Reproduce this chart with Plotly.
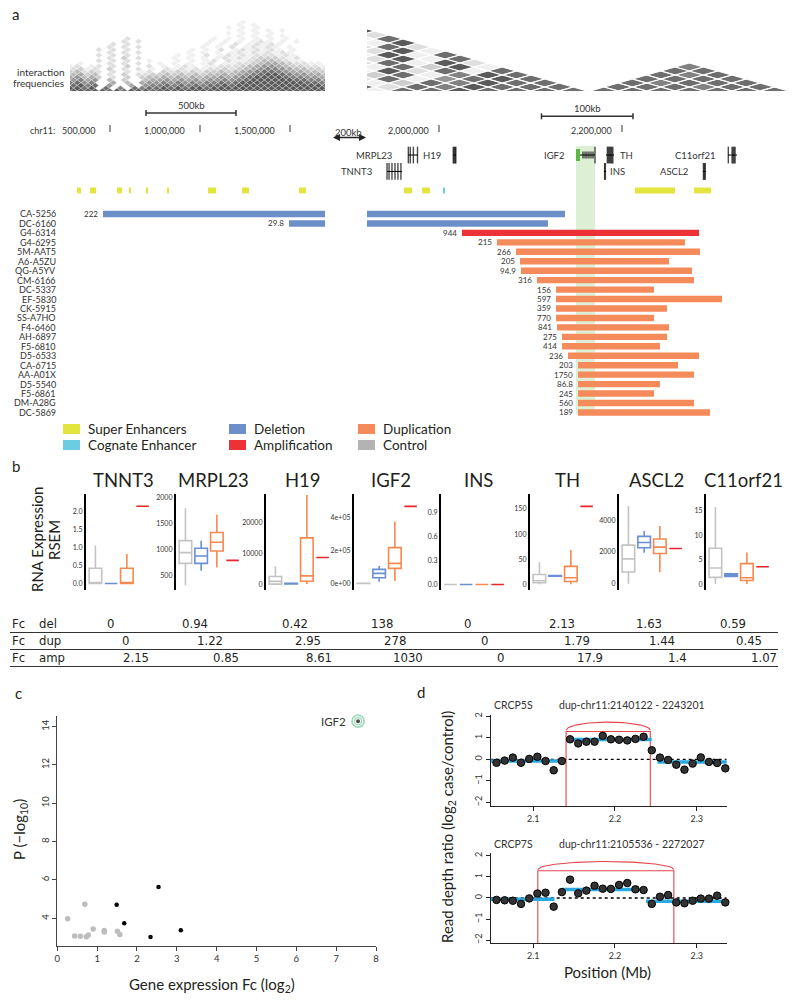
import numpy as np
import plotly.graph_objects as go

W, H = 800, 1004
FONT = "Lato, 'Open Sans', sans-serif"
NARROW = "'Liberation Sans Narrow', 'DejaVu Sans Condensed', Lato, sans-serif"
INK = "#231f20"
YELLOW, CYAN = "#e4e43f", "#6ccde2"
BLUE, RED, ORANGE, GREY = "#6c8fca", "#ec3237", "#f58a5a", "#b3b3b3"

# ============================ DATA ============================
# ---- panel a : Hi-C interaction frequency (0 = none ... 9 = strongest), one string per diagonal offset
hic_left_start_kb = 278.0
hic_left_bin_kb = 40.0
hic_left_levels = [
    "9999 989899 9899 99999999 9999999999 99999",
    "9989 080708 7889 89899899 9999999999 99998",
    "8978 060050 6778 78787889 8999999999 99988",
    "7867 005040 5667 67676778 7899999999 98877",
    "6756 040300 4556 56565667 6789999998 87766",
    "5645 302030 3445 45454556 5678999987 76655",
    "4534 020302 2334 34343445 4567899876 65544",
    "3423 202020 1203 23232334 3456788765 54433",
    "2312 030202 0102 12121223 2345677654 43322",
    "1201 202030 0201 01210112 2234566543 32211",
    "0100 020202 0010 10101201 1223455432 21100",
    "0000 202020 0100 01010120 2112344321 10000",
    "0000 020302 0000 10101012 1212333212 00000",
    "0000 202020 0000 01010201 2121222121 00000",
    "0000 020202 0000 00101010 1212121210 00000",
    "0000 202020 0000 00010102 0121212101 00000",
    "0000 020202 0000 00001010 2012121010 00000",
    "0000 002020 0000 00000101 0201212100 00000",
    "0000 000202 0000 00000101 0101210101 00000",
    "0000 000020 0000 00000010 1010101010 00000",
    "0000 000000 0000 00000000 0101010100 00000",
    "0000 000000 0000 00000000 1010101000 00000",
    "0000 000000 0000 00000000 0101010100 00000",
    "0000 000000 0000 00000000 1010100000 00000",
    "0000 000000 0000 00000000 0101000000 00000",
    "0000 000000 0000 00000000 0010000000 00000",
]
hic_right_bin_kb = 31.0
hic_right_a_start_kb = 1666.0
hic_right_a_levels = [
    "8888888818898888", "888888882879888", "88888881387988", "8888882816898",
    "888888381798", "88888192818", "8888918391", "888828192", "88882918",
    "8881918", "888291", "88282", "8819", "818", "92", "9",
]
hic_right_b_start_kb = 2165.0
hic_right_b_levels = ["8888888", "888788", "87888", "8888", "878", "88", "7"]

super_enh_start_kb = [316.7, 388.9, 538.9, 605.6, 700.0, 816.7, 1044.4, 1233.3, 1550.0,
                      1961.7, 1981.4, 2214.2, 2278.7]
super_enh_end_kb = [338.9, 422.2, 566.7, 616.7, 711.1, 827.8, 1088.9, 1272.2, 1588.9,
                    1970.5, 1990.2, 2257.9, 2297.3]
cognate_enh_start_kb = [2004.4]
cognate_enh_end_kb = [2006.6]

gene_names = ["MRPL23", "H19", "IGF2", "TH", "C11orf21", "TNNT3", "INS", "ASCL2"]
gene_lane = [0, 0, 0, 0, 0, 1, 1, 1]
gene_start_kb = [1966.1, 2015.3, 2149.7, 2182.5, 2315.8, 1943.2, 2180.3, 2288.6]
gene_end_kb = [1977.0, 2018.6, 2170.5, 2191.3, 2325.7, 1959.6, 2182.5, 2291.8]
gene_exons_kb = [
    [1966.5, 1968.6, 1972.0, 1976.5],
    [2015.6, 2016.6, 2017.6, 2018.4],
    [2157.4, 2159.6, 2161.7, 2163.9, 2166.1, 2168.3, 2170.5],
    [2184.0, 2185.2, 2186.4, 2187.6, 2188.8, 2190.0],
    [2316.2, 2320.3, 2321.4, 2322.5, 2323.6],
    [1943.2, 1945.4, 1948.6, 1951.9, 1955.1, 1958.4],
    [2181.0, 2181.8],
    [2289.0, 2290.0, 2291.0],
]
igf2_first_exon_kb = [2149.7, 2154.1]

samples = ["CA-5256", "DC-6160", "G4-6314", "G4-6295", "5M-AAT5", "A6-A5ZU", "QG-A5YV",
           "CM-6166", "DC-5337", "EF-5830", "CK-5915", "SS-A7HO", "F4-6460", "AH-6897",
           "F5-6810", "D5-6533", "CA-6715", "AA-A01X", "D5-5540", "F5-6861", "DM-A28G", "DC-5869"]
cnv_type = ["del", "del", "amp"] + ["dup"] * 19
cnv_start_kb = [461.1, 1494.4, 2025.1, 2063.4, 2084.2, 2088.5, 2089.6, 2107.1, 2127.9, 2127.9,
                2127.9, 2127.9, 2129.0, 2134.4, 2134.4, 2141.0, 2151.9, 2151.9, 2151.9, 2151.9,
                2151.9, 2151.9]
cnv_end_kb = [2137.7, 2119.1, 2284.2, 2268.9, 2285.2, 2251.4, 2276.5, 2278.7, 2235.0, 2309.3,
              2249.2, 2235.0, 2251.4, 2249.2, 2241.5, 2284.2, 2261.2, 2278.7, 2241.5, 2235.0,
              2278.7, 2296.2]
cnv_value = ["222", "29.8", "944", "215", "266", "205", "94.9", "316", "156", "597", "359",
             "770", "841", "275", "414", "236", "203", "1750", "86.8", "245", "560", "189"]

coord_ticks_kb = [500, 1000, 1500, 2000, 2200]
coord_labels = ["500,000", "1,000,000", "1,500,000", "2,000,000", "2,200,000"]

# ---- panel b : RNA expression (RSEM) box statistics [low whisker, Q1, median, Q3, high whisker]
b_genes = ["TNNT3", "MRPL23", "H19", "IGF2", "INS", "TH", "ASCL2", "C11orf21"]
b_control = [[0, 0, 0, 0.42, 1.05], [308, 728, 936, 1168, 1795], [0, 0, 900, 2500, 5800],
             [0, 0, 0, 500, 2000], [0, 0, 0, 0, 0], [0, 2.7, 6.7, 19.4, 43.5],
             [0, 741, 1566, 2434, 4889], [0, 1.37, 3.29, 7.33, 15.75]]
b_deletion = [[0, 0, 0, 0, 0], [587, 728, 871, 1020, 1163], [0, 80, 150, 250, 350],
              [10150, 34500, 61000, 85300, 105600], [0, 0, 0, 0, 0], [15.5, 16, 16.7, 17.4, 18],
              [1947, 2265, 2603, 2984, 3323], [1.44, 1.58, 1.85, 2.12, 2.33]]
b_duplication = [[0, 0, 0, 0.42, 0.82], [651, 968, 1136, 1324, 1667], [0, 930, 2680, 15050, 28970],
                 [15000, 91400, 121800, 217300, 375600], [0, 0, 0, 0, 0], [0, 5.4, 12.7, 35.5, 68.3],
                 [720, 1905, 2307, 2815, 3640], [0, 0.75, 1.3, 4.18, 6.44]]
b_amplification = [2.14, 787, 8660, 467000, 0, 155.3, 2222, 3.56]
b_tickvals = [[0, 0.5, 1, 1.5, 2], [500, 1000, 1500, 2000], [0, 10000, 20000], [0, 200000, 400000],
              [0, 0.3, 0.6, 0.9], [0, 50, 100, 150], [0, 2000, 4000], [0, 5, 10, 15]]
b_ticktext = [["0.0", "0.5", "1.0", "1.5", "2.0"], ["500", "1000", "1500", "2000"],
              ["0", "10000", "20000"], ["0e+00", "2e+05", "4e+05"], ["0.0", "0.3", "0.6", "0.9"],
              ["0", "50", "100", "150"], ["0", "2000", "4000"], ["0", "5", "10", "15"]]
b_ranges = [[-0.167, 2.48], [224, 2068], [-1750, 29300], [-36500, 542000], [-0.0625, 1.125],
            [-10.7, 180], [-360, 5651], [-1.1, 18.4]]

# ---- fold-change table
fc_rows = ["del", "dup", "amp"]
fc_del = [0, 0.94, 0.42, 138, 0, 2.13, 1.63, 0.59]
fc_dup = [0, 1.22, 2.95, 278, 0, 1.79, 1.44, 0.45]
fc_amp = [2.15, 0.85, 8.61, 1030, 0, 17.9, 1.4, 1.07]

# ---- panel c
c_other_fc = [0.26, 0.69, 0.435, 0.58, 0.73, 0.78, 0.90, 1.18, 1.18, 1.51, 1.57]
c_other_p = [3.97, 4.73, 3.08, 3.06, 3.04, 3.13, 3.44, 3.36, 3.29, 3.32, 3.15]
c_sig_fc = [1.49, 1.68, 2.54, 2.34, 3.10]
c_sig_p = [4.71, 3.74, 5.63, 3.03, 3.37]
c_igf2_fc = [7.55]
c_igf2_p = [14.28]

# ---- panel d
d_samples = ["CRCP5S", "CRCP7S"]
d_pos_mb = [2.055, 2.065, 2.075, 2.085, 2.095, 2.105, 2.115, 2.125, 2.135, 2.145, 2.155, 2.165,
            2.175, 2.185, 2.195, 2.205, 2.215, 2.225, 2.235, 2.245, 2.255, 2.265, 2.275, 2.285,
            2.295, 2.305, 2.315, 2.325, 2.335]
d_ratio_5s = [-0.16, -0.06, 0.08, -0.16, 0.02, 0.12, -0.08, -0.51, -0.08, 0.93, 0.74, 0.82, 0.82,
              1.09, 0.93, 0.91, 0.88, 0.95, 1.05, 0.42, 0.08, -0.03, -0.25, -0.48, -0.20, 0.09,
              -0.12, -0.17, -0.42]
d_ratio_7s = [-0.09, -0.11, -0.13, -0.28, -0.02, 0.21, 0.25, -0.41, 0.28, 0.87, 0.22, 0.35, 0.58,
              0.44, 0.43, 0.62, 0.71, 0.41, 0.38, -0.28, 0.06, 0.14, -0.21, -0.25, -0.13, -0.03,
              -0.03, 0.11, -0.21]
d_seg_start = [[2.04, 2.141, 2.252], [2.04, 2.135, 2.238]]
d_seg_end = [[2.139, 2.245, 2.34], [2.126, 2.238, 2.34]]
d_seg_level = [[-0.08, 0.92, -0.12], [-0.06, 0.40, -0.16]]
d_dup_start_mb = [2.140122, 2.105536]
d_dup_end_mb = [2.243201, 2.272027]

# ============================ FIGURE ============================
GRAYS = {1: "#f0f0f0", 2: "#dfdfdf", 3: "#cecece", 4: "#bcbcbc", 5: "#a9a9a9",
         6: "#969696", 7: "#828282", 8: "#6e6e6e", 9: "#5a5a5a"}

fig = go.Figure()
AX, ANN, SHP = {}, [], []


def px(x):
    return x / W


def py(y):
    return 1 - y / H


def axes(n, xd, yd, xr, yr, xo=None, yo=None):
    xk, yk = ("xaxis", "yaxis") if n == 1 else (f"xaxis{n}", f"yaxis{n}")
    xref, yref = ("x", "y") if n == 1 else (f"x{n}", f"y{n}")
    base = dict(showgrid=False, zeroline=False, fixedrange=True)
    X = dict(base, domain=[px(xd[0]), px(xd[1])], anchor=yref, range=xr)
    Y = dict(base, domain=[py(yd[1]), py(yd[0])], anchor=xref, range=yr)
    X.update(xo if xo is not None else dict(visible=False))
    Y.update(yo if yo is not None else dict(visible=False))
    AX[xk], AX[yk] = X, Y
    return xref, yref


def txt(x, y, s, size=10, xanchor="center", yanchor="middle", color=INK, family=FONT,
        angle=0, xref="paper", yref="paper", xshift=0, yshift=0):
    ANN.append(dict(x=x, y=y, text=s, showarrow=False, xref=xref, yref=yref, xanchor=xanchor,
                    yanchor=yanchor, textangle=angle, xshift=xshift, yshift=yshift,
                    font=dict(size=size, color=color, family=family)))


def ptxt(xp, yp, s, **kw):
    txt(px(xp), py(yp), s, **kw)


def pline(x0, y0, x1, y1, color=INK, width=1, xref="paper", yref="paper"):
    SHP.append(dict(type="line", x0=x0, y0=y0, x1=x1, y1=y1, xref=xref, yref=yref,
                    line=dict(color=color, width=width)))


# ---------------- panel a ----------------
L_RANGE = [277.78, 1694.44]
R_RANGE = [1921.31, 2383.61]
xh1, yh1 = axes(1, (70, 325), (15, 91), L_RANGE, [0, 27.6])
xh2, yh2 = axes(2, (367, 790), (20, 91), R_RANGE, [0, 17.75])
xt1, yt1 = axes(3, (70, 325), (140, 420), L_RANGE, [21.8, -7.83])
xt2, yt2 = axes(4, (367, 790), (140, 420), R_RANGE, [21.8, -7.83])


def diamonds(cells, bin_kb, xr, yr, lcolor, lwidth):
    groups = {}
    hw = bin_kb / 2
    for cx, d, lv in cells:
        xs, ys = groups.setdefault(lv, ([], []))
        xs += [cx - hw, cx, cx + hw, cx, cx - hw, None]
        ys += [d, d + 1, d, d - 1, d, None]
    for lv in sorted(groups):
        xs, ys = groups[lv]
        fig.add_trace(go.Scatter(x=xs, y=ys, mode="lines", fill="toself", fillcolor=GRAYS[lv],
                                 line=dict(color=lcolor, width=lwidth), xaxis=xr, yaxis=yr,
                                 hoverinfo="skip"))


cells = []
for d, row in enumerate(hic_left_levels):
    for k, ch in enumerate(row.replace(" ", "")):
        if ch != "0":
            p = k - 0.5 * (d % 2)
            cells.append((hic_left_start_kb + (p + 0.5) * hic_left_bin_kb, d, int(ch)))
diamonds(cells, hic_left_bin_kb, xh1, yh1, "white", 0.3)

cells = []
for start, levels in ((hic_right_a_start_kb, hic_right_a_levels), (hic_right_b_start_kb, hic_right_b_levels)):
    for d, row in enumerate(levels):
        for i, ch in enumerate(row):
            if ch != "0":
                cells.append((start + (i + d / 2 + 0.5) * hic_right_bin_kb, d, int(ch)))
diamonds(cells, hic_right_bin_kb, xh2, yh2, "white", 1.2)

# highlight IGF2
ig = gene_names.index("IGF2")
SHP.append(dict(type="rect", xref=xt2, yref=yt2, x0=gene_start_kb[ig], x1=gene_end_kb[ig],
                y0=-7.2, y1=21.2, fillcolor="#ddf0d6", line=dict(width=0), layer="below"))

# CNV bars
cnv_colors = {"del": BLUE, "amp": RED, "dup": ORANGE}
rows = list(range(len(samples)))
for xr, yr in ((xt1, yt1), (xt2, yt2)):
    for t in ("del", "amp", "dup"):
        idx = [i for i in rows if cnv_type[i] == t]
        fig.add_trace(go.Bar(orientation="h", y=[rows[i] for i in idx],
                             base=[cnv_start_kb[i] for i in idx],
                             x=[cnv_end_kb[i] - cnv_start_kb[i] for i in idx],
                             width=0.68, marker=dict(color=cnv_colors[t], line=dict(width=0)),
                             xaxis=xr, yaxis=yr, hoverinfo="skip"))
    # enhancers
    fig.add_trace(go.Bar(orientation="h", y=[-2.49] * len(super_enh_start_kb), base=super_enh_start_kb,
                         x=[e - s for s, e in zip(super_enh_start_kb, super_enh_end_kb)], width=0.62,
                         marker=dict(color=YELLOW, line=dict(width=0)), xaxis=xr, yaxis=yr, hoverinfo="skip"))
    fig.add_trace(go.Bar(orientation="h", y=[-2.49] * len(cognate_enh_start_kb), base=cognate_enh_start_kb,
                         x=[e - s for s, e in zip(cognate_enh_start_kb, cognate_enh_end_kb)], width=0.62,
                         marker=dict(color=CYAN, line=dict(width=0)), xaxis=xr, yaxis=yr, hoverinfo="skip"))

for i in rows:
    txt(px(58), rows[i], samples[i], size=9, xanchor="right", color="#333333", yref=yt1)
    on_left = cnv_start_kb[i] < L_RANGE[1]
    txt(cnv_start_kb[i], rows[i], cnv_value[i], size=8, xanchor="right", color="#333333",
        xref=xt1 if on_left else xt2, yref=yt1 if on_left else yt2, xshift=-3)

# genes
lane_y = [-6.24, -4.50]
gx, gy = [], []
for s, e, ln in zip(gene_start_kb, gene_end_kb, gene_lane):
    gx += [s, e, None]
    gy += [lane_y[ln], lane_y[ln], None]
fig.add_trace(go.Scatter(x=gx, y=gy, mode="lines", line=dict(color="black", width=1),
                         xaxis=xt2, yaxis=yt2, hoverinfo="skip"))
ex, ey, es = [], [], []
for g, exons in enumerate(gene_exons_kb):
    for j, e in enumerate(exons):
        ex.append(e)
        ey.append(lane_y[gene_lane[g]])
        small = gene_names[g] == "IGF2" and j < len(exons) - 1
        es.append(5 if small else 12)
fig.add_trace(go.Scatter(x=ex, y=ey, mode="markers",
                         marker=dict(symbol="line-ns", size=es, line=dict(color="black", width=1.4)),
                         xaxis=xt2, yaxis=yt2, hoverinfo="skip"))
fig.add_trace(go.Scatter(x=igf2_first_exon_kb, y=[lane_y[0]] * 2, mode="lines",
                         line=dict(color="#5cb947", width=12), xaxis=xt2, yaxis=yt2, hoverinfo="skip"))
gene_label_side = ["left", "left", "left", "right", "left", "left", "right", "left"]
gene_label_shift = [-14, -10, -10, 4, -10, -13, 2, -13]
for g, nm in enumerate(gene_names):
    left = gene_label_side[g] == "left"
    txt(gene_start_kb[g] if left else gene_end_kb[g], lane_y[gene_lane[g]], nm, size=9.5,
        xanchor="right" if left else "left", color="#333333", xref=xt2, yref=yt2,
        xshift=gene_label_shift[g])

# coordinates row / scale bars
for kb, lab in zip(coord_ticks_kb, coord_labels):
    xr = xt1 if kb < L_RANGE[1] else xt2
    pline(kb, py(125), kb, py(132), color="#333333", width=1, xref=xr)
    txt(kb, py(130), lab, size=9, xanchor="right", color="#333333", xref=xr,
        xshift=-13 if xr == xt1 else -8)
ptxt(28, 130, "chr11:", size=9, xanchor="left", color="#333333")
for (a, b), yb, ytx, lab, xr in (((700, 1200), 113, 105, "500kb", xt1), ((2112, 2212), 116.3, 108.5, "100kb", xt2)):
    pline(a, py(yb), b, py(yb), color="#333333", width=1.5, xref=xr)
    pline(a, py(yb - 3), a, py(yb + 3), color="#333333", width=1.5, xref=xr)
    pline(b, py(yb - 3), b, py(yb + 3), color="#333333", width=1.5, xref=xr)
    txt((a + b) / 2, py(ytx), lab, size=9.5, color="#333333", xref=xr)
ANN.append(dict(x=px(366), y=py(137.5), ax=-36, ay=0, xref="paper", yref="paper", text=" ",
                showarrow=True, arrowside="end+start", arrowhead=2, arrowsize=1, arrowwidth=1.4,
                arrowcolor="#222222"))
ptxt(348, 132, "200kb", size=9.5, color="#333333")
ptxt(66, 72, "interaction", size=10, xanchor="right", color="#333333")
ptxt(66, 83, "frequencies", size=10, xanchor="right", color="#333333")
ptxt(10, 14, "a", size=15, xanchor="left")

# legend
legend_items = [("Super Enhancers", YELLOW, 63, 424), ("Cognate Enhancer", CYAN, 63, 440),
                ("Deletion", BLUE, 229, 424), ("Amplification", RED, 229, 440),
                ("Duplication", ORANGE, 358, 424), ("Control", GREY, 358, 440)]
for lab, col, x0, y0 in legend_items:
    SHP.append(dict(type="rect", xref="paper", yref="paper", x0=px(x0), x1=px(x0 + 17),
                    y0=py(y0 + 10), y1=py(y0), fillcolor=col, line=dict(width=0)))
    ptxt(x0 + 23, y0 + 5, lab, size=13.5, xanchor="left")

# ---------------- panel b ----------------
ptxt(10, 466, "b", size=15, xanchor="left")
b_axis_px = [86, 176, 266, 354, 441, 530, 619, 706]
grp_colors = ["#c3c3c3", "#6a8fd2", "#f5894f", "#e8272b"]
for gi, g in enumerate(b_genes):
    x0 = b_axis_px[gi]
    xr, yr = axes(5 + gi, (x0, x0 + 66), (494, 589.5), [0.4, 4.6], b_ranges[gi],
                  yo=dict(visible=True, showline=True, linecolor="black", linewidth=2.2, ticks="",
                          tickvals=b_tickvals[gi], ticktext=b_ticktext[gi],
                          tickfont=dict(size=7, color="#333333", family=FONT)))
    stats = [b_control[gi], b_deletion[gi], b_duplication[gi], [b_amplification[gi]] * 5]
    for k, st in enumerate(stats):
        fig.add_trace(go.Box(x=[k + 1], lowerfence=[st[0]], q1=[st[1]], median=[st[2]], q3=[st[3]],
                             upperfence=[st[4]], width=0.8, whiskerwidth=0, boxpoints=False,
                             line=dict(color=grp_colors[k], width=1.6), fillcolor="rgba(0,0,0,0)",
                             xaxis=xr, yaxis=yr, hoverinfo="skip"))
    ptxt(x0 + 37, 480, g, size=18.5)
ptxt(37, 540, "RNA Expression", size=15, angle=-90)
ptxt(54, 540, "RSEM", size=15, angle=-90)

# fold-change table
tbl_x = [[110, 195, 295, 382, 467, 562, 649, 733],
         [125, 210, 308, 395, 485, 577, 662, 749],
         [136, 226, 319, 408, 500, 590, 677, 764]]
tbl_y = [623, 640, 657]
for r, (nm, vals) in enumerate(zip(fc_rows, (fc_del, fc_dup, fc_amp))):
    ptxt(10, tbl_y[r], "Fc", size=13, xanchor="left", family=NARROW)
    ptxt(37, tbl_y[r], nm, size=13, xanchor="left", family=NARROW)
    for c, v in enumerate(vals):
        ptxt(tbl_x[r][c], tbl_y[r], str(v), size=13, family=NARROW)
    pline(px(10), py(tbl_y[r] + 9.5), px(778), py(tbl_y[r] + 9.5), color="#333333", width=1.2)

# ---------------- panel c ----------------
ptxt(13, 693, "c", size=15, xanchor="left")
tick_style = dict(visible=True, showline=True, linecolor="#444444", linewidth=1, ticks="outside",
                  ticklen=4, tickcolor="#444444", tickfont=dict(size=9.5, color="#333333", family=FONT))
xc, yc = axes(13, (57.3, 376), (716, 946), [0, 8], [2.555, 14.55],
              xo=dict(tick_style, tickvals=list(range(9))),
              yo=dict(tick_style, tickvals=[4, 6, 8, 10, 12, 14], tickangle=-90))
fig.add_trace(go.Scatter(x=c_other_fc, y=c_other_p, mode="markers", cliponaxis=False,
                         marker=dict(color="#bdbdbd", size=5.5), xaxis=xc, yaxis=yc, hoverinfo="skip"))
fig.add_trace(go.Scatter(x=c_sig_fc, y=c_sig_p, mode="markers", cliponaxis=False,
                         marker=dict(color="black", size=4.5), xaxis=xc, yaxis=yc, hoverinfo="skip"))
fig.add_trace(go.Scatter(x=c_igf2_fc * 3, y=c_igf2_p * 3, mode="markers", cliponaxis=False,
                         marker=dict(symbol=["circle-open", "circle-open", "circle"], size=[12, 7, 4],
                                     color=["#78cc9f", "#78cc9f", "black"],
                                     line=dict(width=[1.8, 1.2, 0])),
                         xaxis=xc, yaxis=yc, hoverinfo="skip"))
txt(c_igf2_fc[0], c_igf2_p[0], "IGF2", size=11.5, xanchor="right", color="#333333",
    xref=xc, yref=yc, xshift=-10)
ptxt(212, 985, "Gene expression Fc (log<sub>2</sub>)", size=15)
ptxt(20, 830, "P (\u2212log<sub>10</sub>)", size=15, angle=-90)

# ---------------- panel d ----------------
ptxt(415, 692, "d", size=15, xanchor="left")
d_xr = [2.0479, 2.3367]
d_style = dict(visible=True, showline=True, linecolor="#222222", linewidth=1, ticks="outside",
               ticklen=4, tickcolor="#222222", tickfont=dict(size=9, color="#333333", family=FONT))
d_axes = [axes(14, (490.7, 726.7), (715, 806), d_xr, [-2.17, 2.06],
               xo=dict(d_style, tickvals=[2.1, 2.2, 2.3]),
               yo=dict(d_style, tickvals=[-2, -1, 0, 1, 2], tickangle=-90)),
          axes(15, (490.7, 726.7), (853.3, 943.3), d_xr, [-2.15, 2.12],
               xo=dict(d_style, tickvals=[2.1, 2.2, 2.3]),
               yo=dict(d_style, tickvals=[-2, -1, 0, 1, 2], tickangle=-90))]
d_title_y = [705, 844]
for k, (xr, yr) in enumerate(d_axes):
    ratios = d_ratio_5s if k == 0 else d_ratio_7s
    ybot = AX[f"yaxis{14 + k}"]["range"][0]
    s, e = d_dup_start_mb[k], d_dup_end_mb[k]
    top = 1.29
    fig.add_trace(go.Scatter(x=[s, s, e, e], y=[ybot, top, top, ybot], mode="lines",
                             line=dict(color="#e5454d", width=1.1), xaxis=xr, yaxis=yr, hoverinfo="skip"))
    t = np.linspace(-1, 1, 80)
    fig.add_trace(go.Scatter(x=(s + e) / 2 + (e - s) / 2 * t, y=top + 0.06 + 0.38 * np.sqrt(1 - t ** 2),
                             mode="lines", line=dict(color="#e5454d", width=1.1),
                             xaxis=xr, yaxis=yr, hoverinfo="skip"))
    fig.add_trace(go.Scatter(x=d_xr, y=[0, 0], mode="lines", line=dict(color="black", width=1.3, dash="dot"),
                             xaxis=xr, yaxis=yr, hoverinfo="skip"))
    sx, sy = [], []
    for a, b, lv in zip(d_seg_start[k], d_seg_end[k], d_seg_level[k]):
        sx += [a, b, None]
        sy += [lv, lv, None]
    fig.add_trace(go.Scatter(x=sx, y=sy, mode="lines", line=dict(color="#29aae2", width=3.5),
                             xaxis=xr, yaxis=yr, hoverinfo="skip"))
    fig.add_trace(go.Scatter(x=d_pos_mb, y=ratios, mode="markers", cliponaxis=False,
                             marker=dict(color="#333333", size=7.5, line=dict(color="black", width=1)),
                             xaxis=xr, yaxis=yr, hoverinfo="skip"))
    ptxt(492, d_title_y[k], d_samples[k], size=10.5, xanchor="left", color="#333333")
    ptxt(557, d_title_y[k], f"dup-chr11:{round(s * 1e6)} - {round(e * 1e6)}", size=10.5,
         xanchor="left", color="#333333")
ptxt(607, 972, "Position (Mb)", size=15)
ptxt(448, 827, "Read depth ratio (log<sub>2</sub> case/control)", size=15, angle=-90)

fig.update_layout(width=W, height=H, margin=dict(l=0, r=0, t=0, b=0), template="none",
                  paper_bgcolor="white", plot_bgcolor="rgba(0,0,0,0)", showlegend=False,
                  barmode="overlay", annotations=ANN, shapes=SHP, font=dict(family=FONT), **AX)
fig.write_html("out.html", config={"displayModeBar": False},
               post_script="document.body.style.margin='0px';")
